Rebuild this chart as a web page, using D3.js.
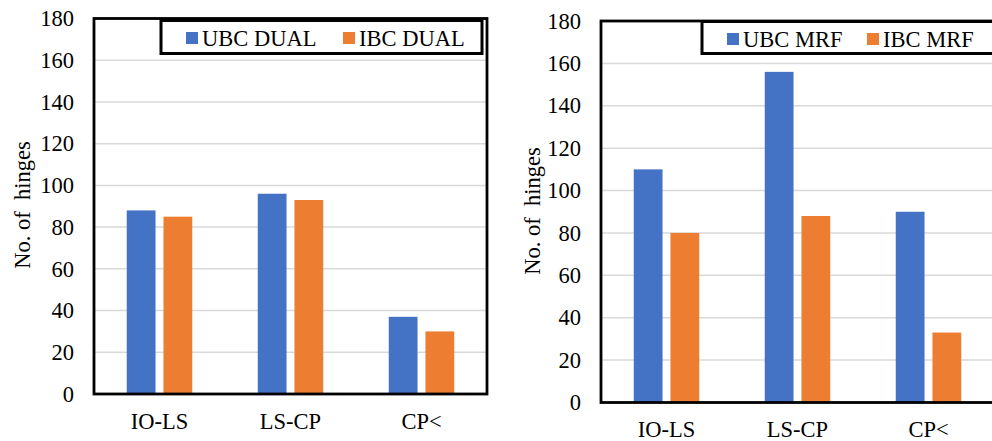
<!DOCTYPE html>
<html>
<head>
<meta charset="utf-8">
<script src="https://cdn.jsdelivr.net/npm/d3@7"></script>
<style>
  html, body { margin: 0; padding: 0; background: #fff; }
  svg { display: block; }
  text { font-family: "Liberation Serif", "Times New Roman", serif; fill: #000; }
</style>
</head>
<body>
<svg id="chart" width="992" height="441"></svg>
<script>
// ---- Data ----
const categories = ["IO-LS", "LS-CP", "CP<"];
const yTicks = [0, 20, 40, 60, 80, 100, 120, 140, 160, 180];

const dualSeries = ["UBC DUAL", "IBC DUAL"];
const ubcDual = [88, 96, 37];
const ibcDual = [85, 93, 30];

const mrfSeries = ["UBC MRF", "IBC MRF"];
const ubcMrf = [110, 156, 90];
const ibcMrf = [80, 88, 33];

const seriesColors = ["#4472C4", "#ED7D31"];
const yTitle = "No. of  hinges";

// ---- Drawing ----
const svg = d3.select("#chart");
const FONT = '"Liberation Serif", "Times New Roman", serif';
const FS = "22.5px";

function drawChart(opt) {
  const g = svg.append("g");
  const x0 = d3.scaleBand().domain(categories).range([opt.left, opt.right]).padding(0);
  const bw = x0.bandwidth();
  const x1 = d3.scaleBand().domain(opt.series).range([bw * 0.25, bw * 0.75]).paddingInner(0.216).paddingOuter(0);
  const y = d3.scaleLinear().domain([0, 180]).range([opt.bottom, opt.top]);

  // gridlines
  g.append("g").selectAll("line").data(yTicks.filter(t => t > 0 && t < 180)).join("line")
    .attr("x1", opt.left).attr("x2", opt.right)
    .attr("y1", d => y(d)).attr("y2", d => y(d))
    .attr("stroke", "#d9d9d9").attr("stroke-width", 1.5);

  // bars
  const values = [opt.values[0], opt.values[1]];
  const groups = g.append("g").selectAll("g").data(categories).join("g")
    .attr("transform", d => `translate(${x0(d)},0)`);
  groups.selectAll("rect").data((d, i) => opt.series.map((s, k) => ({ s, k, v: values[k][i] }))).join("rect")
    .attr("x", d => x1(d.s)).attr("width", x1.bandwidth())
    .attr("y", d => y(d.v)).attr("height", d => y(0) - y(d.v))
    .attr("fill", d => seriesColors[d.k]);

  // y axis labels
  const yAxis = d3.axisLeft(y).tickValues(yTicks).tickSize(0).tickPadding(opt.tickPad);
  const ya = g.append("g").attr("transform", `translate(${opt.left},0)`).call(yAxis);
  ya.attr("font-family", FONT).attr("font-size", FS);
  ya.select(".domain").remove();
  ya.selectAll("text").style("font-family", FONT).style("font-size", FS).attr("fill", "#000");

  // x axis labels
  const xAxis = d3.axisBottom(x0).tickSize(0).tickPadding(opt.xPad);
  const xa = g.append("g").attr("transform", `translate(0,${opt.bottom})`).call(xAxis);
  xa.attr("font-family", FONT).attr("font-size", FS);
  xa.select(".domain").remove();
  xa.selectAll("text").style("font-family", FONT).style("font-size", FS).attr("fill", "#000");

  // plot border
  g.append("rect")
    .attr("x", opt.left).attr("y", opt.top)
    .attr("width", opt.right - opt.left).attr("height", opt.bottom - opt.top)
    .attr("fill", "none").attr("stroke", "#000").attr("stroke-width", 2.8);

  // y title
  g.append("text")
    .attr("transform", `translate(${opt.titleX},${opt.titleY}) rotate(-90)`)
    .attr("text-anchor", "middle")
    .style("font-size", FS)
    .style("white-space", "pre")
    .attr("xml:space", "preserve")
    .text(yTitle);

  // legend
  const lg = g.append("g");
  lg.append("rect")
    .attr("x", opt.legend.x).attr("y", opt.legend.y)
    .attr("width", opt.legend.w).attr("height", opt.legend.h)
    .attr("fill", "#fff").attr("stroke", "#000").attr("stroke-width", 3);
  opt.series.forEach((s, k) => {
    const ix = opt.legend.items[k];
    lg.append("rect").attr("x", ix).attr("y", opt.legend.y + 11.5).attr("width", 12).attr("height", 12)
      .attr("fill", seriesColors[k]);
    lg.append("text").attr("x", ix + 16).attr("y", opt.legend.y + 25)
      .style("font-size", FS).text(s);
  });
}

drawChart({
  left: 94, right: 487, top: 18.5, bottom: 394,
  series: dualSeries, values: [ubcDual, ibcDual],
  tickPad: 20, xPad: 19,
  titleX: 30, titleY: 205,
  legend: { x: 161, y: 20.5, w: 321, h: 33, items: [186, 343] }
});

drawChart({
  left: 601, right: 994, top: 21, bottom: 402.5,
  series: mrfSeries, values: [ubcMrf, ibcMrf],
  tickPad: 20, xPad: 19,
  titleX: 540, titleY: 211,
  legend: { x: 702, y: 21.5, w: 300, h: 32, items: [727, 867] }
});
</script>
</body>
</html>
